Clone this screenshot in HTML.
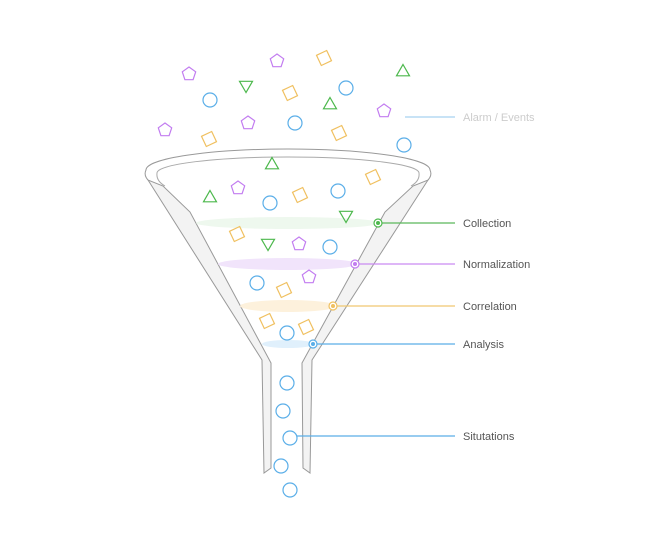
<!DOCTYPE html>
<html><head><meta charset="utf-8"><style>
body{margin:0;background:#fff}
svg{display:block}
text{font-family:"Liberation Sans",sans-serif;font-size:11px;fill:#555}
</style></head><body>
<svg width="665" height="550">
<g fill="#f3f3f3" stroke="#999" stroke-width="1">
 <path d="M150,182 Q143,176 146,170 A142,21 0 0 1 430,170 Q433,176 426,182" fill="none"/>
 <path d="M165,186 Q156,181 157,173 A131,16 0 0 1 419,173 Q420,181 411,186" fill="none" stroke="#aaa"/>
 <path d="M148,180 L262,360 L264,473 L271,468 L271,363 L190,212 L163,186 Z"/>
 <path d="M428,180 L312,360 L310,473 L303,468 L302,363 L385,212 L413,186 Z"/>
</g>
<g>
 <ellipse cx="288" cy="223" rx="92" ry="6" fill="#eaf6ea" opacity="0.8"/>
 <ellipse cx="288" cy="264" rx="70" ry="6" fill="#f1e4fb"/>
 <ellipse cx="288" cy="306" rx="48" ry="6" fill="#fdf1dc"/>
 <ellipse cx="288" cy="344" rx="26" ry="4" fill="#e0f0fc"/>
</g>
<g id="shapes" fill="none" stroke-width="1.2"></g>
<g stroke-width="1.2">
 <line x1="405" y1="117" x2="455" y2="117" stroke="#a8d2f0"/>
 <line x1="378" y1="223" x2="455" y2="223" stroke="#5bb85b"/>
 <circle cx="378" cy="223" r="4" fill="#fff" stroke="#4cb84c"/><circle cx="378" cy="223" r="2" fill="#4cb84c"/>
 <line x1="355" y1="264" x2="455" y2="264" stroke="#c98af2"/>
 <circle cx="355" cy="264" r="4" fill="#fff" stroke="#c27cf0"/><circle cx="355" cy="264" r="2" fill="#c27cf0"/>
 <line x1="333" y1="306" x2="455" y2="306" stroke="#f0c870"/>
 <circle cx="333" cy="306" r="4" fill="#fff" stroke="#f0c060"/><circle cx="333" cy="306" r="2" fill="#f0c060"/>
 <line x1="313" y1="344" x2="455" y2="344" stroke="#5aaee8"/>
 <circle cx="313" cy="344" r="4" fill="#fff" stroke="#5aaee8"/><circle cx="313" cy="344" r="2" fill="#5aaee8"/>
 <line x1="297" y1="436" x2="455" y2="436" stroke="#5aaee8"/>
</g>
<text x="463" y="121" style="fill:#ccc">Alarm / Events</text>
<text x="463" y="227">Collection</text>
<text x="463" y="268">Normalization</text>
<text x="463" y="310">Correlation</text>
<text x="463" y="348">Analysis</text>
<text x="463" y="440">Situtations</text>
</svg>
<script>
const circles=[[210,100],[346,88],[295,123],[404,145],[270,203],[338,191],[330,247],[257,283],[287,333],[287,383],[283,411],[290,438],[281,466],[290,490]];
const squares=[[324,58],[290,93],[209,139],[339,133],[300,195],[373,177],[237,234],[284,290],[267,321],[306,327]];
const pentagons=[[189,74],[277,61],[165,130],[248,123],[384,111],[238,188],[299,244],[309,277]];
const trisUp=[[403,72],[330,105],[272,165],[210,198]];
const trisDown=[[246,85],[346,215],[268,243]];
const g=document.getElementById('shapes');
const NS='http://www.w3.org/2000/svg';
function poly(cx,cy,n,r,rot){let p=[];for(let i=0;i<n;i++){const a=rot+i*2*Math.PI/n;p.push((cx+r*Math.cos(a)).toFixed(1)+','+(cy+r*Math.sin(a)).toFixed(1));}return p.join(' ');}
circles.forEach(d=>{const e=document.createElementNS(NS,'circle');e.setAttribute('cx',d[0]);e.setAttribute('cy',d[1]);e.setAttribute('r',7);e.setAttribute('stroke','#5aaee8');


g.appendChild(e);});
squares.forEach(d=>{const e=document.createElementNS(NS,'polygon');e.setAttribute('points',poly(d[0],d[1],4,8,0.35));e.setAttribute('stroke','#f0c060');


g.appendChild(e);});
pentagons.forEach(d=>{const e=document.createElementNS(NS,'polygon');e.setAttribute('points',poly(d[0],d[1],5,7,-Math.PI/2));e.setAttribute('stroke','#c27cf0');


g.appendChild(e);});
trisUp.forEach(d=>{const e=document.createElementNS(NS,'polygon');e.setAttribute('points',poly(d[0],d[1],3,7.5,-Math.PI/2));e.setAttribute('stroke','#4cb84c');


g.appendChild(e);});
trisDown.forEach(d=>{const e=document.createElementNS(NS,'polygon');e.setAttribute('points',poly(d[0],d[1],3,7.5,Math.PI/2));e.setAttribute('stroke','#4cb84c');


g.appendChild(e);});
</script>
</body></html>
